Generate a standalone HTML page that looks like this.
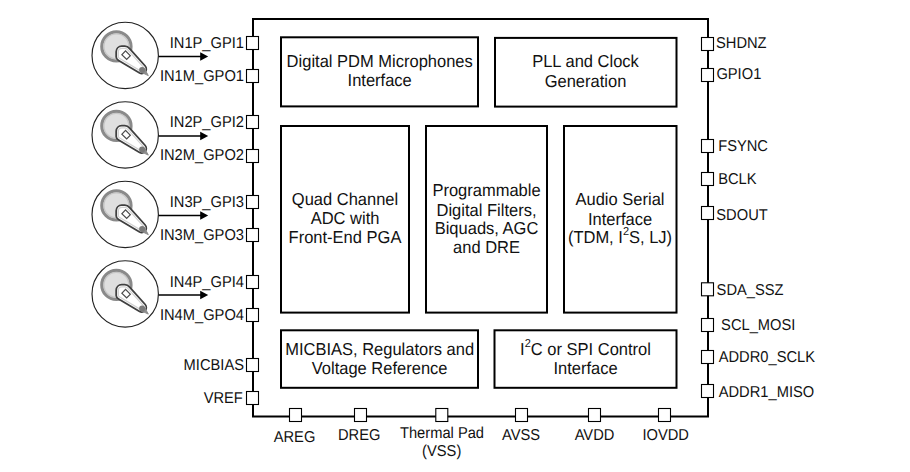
<!DOCTYPE html>
<html><head><meta charset="utf-8"><title>Block Diagram</title>
<style>
html,body{margin:0;padding:0;background:#fff;}
body{width:910px;height:472px;overflow:hidden;}
svg{display:block;}
text{font-family:"Liberation Sans",Arial,Helvetica,sans-serif;fill:#111;text-rendering:geometricPrecision;}
</style></head><body>
<svg width="910" height="472" viewBox="0 0 910 472">
<defs><clipPath id="hc"><path d="M129.6,48.6 L145.2,66.0 C146.7,67.8 146.7,70.5 145.0,72.1 C143.4,73.6 141.4,73.9 139.6,73.0 L118.6,60.4 C117.1,59.5 116.2,58.6 116.2,57.0 L116.2,51.8 C116.2,48.7 118.6,46.3 121.8,46.2 L124.8,46.2 C126.9,46.2 128.4,47.2 129.6,48.6 Z"/></clipPath></defs>
<rect x="0" y="0" width="910" height="472" fill="#fff"/>
<rect x="253" y="19" width="455" height="397.5" fill="none" stroke="#000" stroke-width="2"/>
<rect x="281" y="37.3" width="197" height="69.1" fill="#fff" stroke="#000" stroke-width="2"/>
<rect x="495" y="37.9" width="181.5" height="68.7" fill="#fff" stroke="#000" stroke-width="2"/>
<rect x="281" y="126" width="128" height="186.6" fill="#fff" stroke="#000" stroke-width="2"/>
<rect x="426" y="126" width="121" height="186.6" fill="#fff" stroke="#000" stroke-width="2"/>
<rect x="564" y="126" width="112.5" height="186.6" fill="#fff" stroke="#000" stroke-width="2"/>
<rect x="281" y="330.3" width="197" height="57.5" fill="#fff" stroke="#000" stroke-width="2"/>
<rect x="494.5" y="330.3" width="182.0" height="57.5" fill="#fff" stroke="#000" stroke-width="2"/>
<rect x="246.5" y="36.5" width="12" height="13" fill="#fff" stroke="#000" stroke-width="1.1"/>
<text transform="translate(244,47.5) scale(1,1.07)" text-anchor="end" font-size="14.7">IN1P_GPI1</text>
<rect x="246.5" y="69.5" width="12" height="13" fill="#fff" stroke="#000" stroke-width="1.1"/>
<text transform="translate(244,80.8) scale(1,1.07)" text-anchor="end" font-size="14.7">IN1M_GPO1</text>
<rect x="246.5" y="115.5" width="12" height="13" fill="#fff" stroke="#000" stroke-width="1.1"/>
<text transform="translate(244,127) scale(1,1.07)" text-anchor="end" font-size="14.7">IN2P_GPI2</text>
<rect x="246.5" y="149.5" width="12" height="13" fill="#fff" stroke="#000" stroke-width="1.1"/>
<text transform="translate(244,160) scale(1,1.07)" text-anchor="end" font-size="14.7">IN2M_GPO2</text>
<rect x="246.5" y="195.5" width="12" height="13" fill="#fff" stroke="#000" stroke-width="1.1"/>
<text transform="translate(244,207) scale(1,1.07)" text-anchor="end" font-size="14.7">IN3P_GPI3</text>
<rect x="246.5" y="228.5" width="12" height="13" fill="#fff" stroke="#000" stroke-width="1.1"/>
<text transform="translate(244,240) scale(1,1.07)" text-anchor="end" font-size="14.7">IN3M_GPO3</text>
<rect x="246.5" y="275.5" width="12" height="13" fill="#fff" stroke="#000" stroke-width="1.1"/>
<text transform="translate(244,286.7) scale(1,1.07)" text-anchor="end" font-size="14.7">IN4P_GPI4</text>
<rect x="246.5" y="308.5" width="12" height="13" fill="#fff" stroke="#000" stroke-width="1.1"/>
<text transform="translate(244,319.6) scale(1,1.07)" text-anchor="end" font-size="14.7">IN4M_GPO4</text>
<rect x="246.5" y="358.5" width="12" height="13" fill="#fff" stroke="#000" stroke-width="1.1"/>
<text transform="translate(244,369.7) scale(1,1.07)" text-anchor="end" font-size="14.7">MICBIAS</text>
<rect x="246.5" y="391.5" width="12" height="13" fill="#fff" stroke="#000" stroke-width="1.1"/>
<text transform="translate(242.8,403.0) scale(1,1.07)" text-anchor="end" font-size="14.7">VREF</text>
<rect x="701.5" y="37.5" width="12" height="13" fill="#fff" stroke="#000" stroke-width="1.1"/>
<text transform="translate(716,48.2) scale(1,1.07)" text-anchor="start" font-size="14.7">SHDNZ</text>
<rect x="701.5" y="68.5" width="12" height="13" fill="#fff" stroke="#000" stroke-width="1.1"/>
<text transform="translate(716.4,78.9) scale(1,1.07)" text-anchor="start" font-size="14.7">GPIO1</text>
<rect x="701.5" y="139.5" width="12" height="13" fill="#fff" stroke="#000" stroke-width="1.1"/>
<text transform="translate(718.2,151) scale(1,1.07)" text-anchor="start" font-size="14.7">FSYNC</text>
<rect x="701.5" y="172.5" width="12" height="13" fill="#fff" stroke="#000" stroke-width="1.1"/>
<text transform="translate(718.2,184.1) scale(1,1.07)" text-anchor="start" font-size="14.7">BCLK</text>
<rect x="701.5" y="206.5" width="12" height="13" fill="#fff" stroke="#000" stroke-width="1.1"/>
<text transform="translate(716.3,219.9) scale(1,1.07)" text-anchor="start" font-size="14.7">SDOUT</text>
<rect x="701.5" y="282.8" width="12" height="13.0" fill="#fff" stroke="#000" stroke-width="1.1"/>
<text transform="translate(716.6,295.2) scale(1,1.07)" text-anchor="start" font-size="14.7">SDA_SSZ</text>
<rect x="701.5" y="318.5" width="12" height="13" fill="#fff" stroke="#000" stroke-width="1.1"/>
<text transform="translate(721.1,330.2) scale(1,1.07)" text-anchor="start" font-size="14.7">SCL_MOSI</text>
<rect x="701.5" y="350.5" width="12" height="13" fill="#fff" stroke="#000" stroke-width="1.1"/>
<text transform="translate(718.7,362) scale(1,1.07)" text-anchor="start" font-size="14.7">ADDR0_SCLK</text>
<rect x="701.5" y="384.5" width="12" height="13" fill="#fff" stroke="#000" stroke-width="1.1"/>
<text transform="translate(718.7,397) scale(1,1.07)" text-anchor="start" font-size="14.7">ADDR1_MISO</text>
<rect x="289.5" y="408.5" width="12" height="13" fill="#fff" stroke="#000" stroke-width="1.1"/>
<text transform="translate(294.5,441.7) scale(1,1.07)" text-anchor="middle" font-size="14.7">AREG</text>
<rect x="354.5" y="408.5" width="12" height="13" fill="#fff" stroke="#000" stroke-width="1.1"/>
<text transform="translate(359.2,439.9) scale(1,1.07)" text-anchor="middle" font-size="14.7">DREG</text>
<rect x="435.8" y="408.5" width="12.0" height="13" fill="#fff" stroke="#000" stroke-width="1.1"/>
<text transform="translate(442.0,437.8) scale(1,1.07)" text-anchor="middle" font-size="14.7">Thermal Pad</text>
<rect x="515.5" y="408.5" width="12" height="13" fill="#fff" stroke="#000" stroke-width="1.1"/>
<text transform="translate(521,439.9) scale(1,1.07)" text-anchor="middle" font-size="14.7">AVSS</text>
<rect x="588.5" y="408.5" width="12" height="13" fill="#fff" stroke="#000" stroke-width="1.1"/>
<text transform="translate(594.5,439.9) scale(1,1.07)" text-anchor="middle" font-size="14.7">AVDD</text>
<rect x="658.5" y="408.5" width="12" height="13" fill="#fff" stroke="#000" stroke-width="1.1"/>
<text transform="translate(665.7,439.9) scale(1,1.07)" text-anchor="middle" font-size="14.7">IOVDD</text>
<text transform="translate(441.7,455.8) scale(1,1.07)" text-anchor="middle" font-size="14.7">(VSS)</text>
<text transform="translate(379.7,66.8) scale(1,1.05)" text-anchor="middle" font-size="16.5">Digital PDM Microphones</text>
<text transform="translate(379.7,85.7) scale(1,1.05)" text-anchor="middle" font-size="16.5">Interface</text>
<text transform="translate(585.5,67) scale(1,1.05)" text-anchor="middle" font-size="16.5">PLL and Clock</text>
<text transform="translate(585.5,86.8) scale(1,1.05)" text-anchor="middle" font-size="16.5">Generation</text>
<text transform="translate(345,205.1) scale(1,1.05)" text-anchor="middle" font-size="16.5">Quad Channel</text>
<text transform="translate(345,223.5) scale(1,1.05)" text-anchor="middle" font-size="16.5">ADC with</text>
<text transform="translate(345,242.8) scale(1,1.05)" text-anchor="middle" font-size="16.5">Front-End PGA</text>
<text transform="translate(486.5,196.1) scale(1,1.05)" text-anchor="middle" font-size="16.5">Programmable</text>
<text transform="translate(486.5,215.5) scale(1,1.05)" text-anchor="middle" font-size="16.5">Digital Filters,</text>
<text transform="translate(486.5,234.3) scale(1,1.05)" text-anchor="middle" font-size="16.5">Biquads, AGC</text>
<text transform="translate(486.5,252.7) scale(1,1.05)" text-anchor="middle" font-size="16.5">and DRE</text>
<text transform="translate(620,204.5) scale(1,1.05)" text-anchor="middle" font-size="16.5">Audio Serial</text>
<text transform="translate(620,224.6) scale(1,1.05)" text-anchor="middle" font-size="16.5">Interface</text>
<text transform="translate(620,243.0) scale(1,1.05)" text-anchor="middle" font-size="16.5">(TDM, I<tspan font-size="11" dy="-7.8">2</tspan><tspan dy="7.8">S, LJ)</tspan></text>
<text transform="translate(379.6,354.6) scale(1,1.05)" text-anchor="middle" font-size="16.5">MICBIAS, Regulators and</text>
<text transform="translate(379.6,373.8) scale(1,1.05)" text-anchor="middle" font-size="16.5">Voltage Reference</text>
<text transform="translate(585.5,354.8) scale(1,1.05)" text-anchor="middle" font-size="16.5">I<tspan font-size="11" dy="-7.8">2</tspan><tspan dy="7.8">C or SPI Control</tspan></text>
<text transform="translate(585.5,373.7) scale(1,1.05)" text-anchor="middle" font-size="16.5">Interface</text>
<g transform="translate(0,0.00)"><circle cx="125.2" cy="55.45" r="33.2" fill="#fff" stroke="#222" stroke-width="1.15"/><circle cx="116.4" cy="46.4" r="14.6" fill="#dfdfdf" stroke="#8a8a8a" stroke-width="3.2"/><circle cx="116.4" cy="46.4" r="12.5" fill="none" stroke="#c6c6c6" stroke-width="1.3"/><path d="M129.6,48.6 L145.2,66.0 C146.7,67.8 146.7,70.5 145.0,72.1 C143.4,73.6 141.4,73.9 139.6,73.0 L118.6,60.4 C117.1,59.5 116.2,58.6 116.2,57.0 L116.2,51.8 C116.2,48.7 118.6,46.3 121.8,46.2 L124.8,46.2 C126.9,46.2 128.4,47.2 129.6,48.6 Z" fill="#fff"/><path d="M129.6,48.6 L145.2,66.0 C146.7,67.8 146.7,70.5 145.0,72.1 C143.4,73.6 141.4,73.9 139.6,73.0 L118.6,60.4 C117.1,59.5 116.2,58.6 116.2,57.0 L116.2,51.8 C116.2,48.7 118.6,46.3 121.8,46.2 L124.8,46.2 C126.9,46.2 128.4,47.2 129.6,48.6 Z" fill="none" stroke="#d2d2d2" stroke-width="5.6" clip-path="url(#hc)"/><path d="M129.6,48.6 L145.2,66.0 C146.7,67.8 146.7,70.5 145.0,72.1 C143.4,73.6 141.4,73.9 139.6,73.0 L118.6,60.4 C117.1,59.5 116.2,58.6 116.2,57.0 L116.2,51.8 C116.2,48.7 118.6,46.3 121.8,46.2 L124.8,46.2 C126.9,46.2 128.4,47.2 129.6,48.6 Z" fill="none" stroke="#fff" stroke-width="3.2" clip-path="url(#hc)"/><path d="M129.6,48.6 L145.2,66.0 C146.7,67.8 146.7,70.5 145.0,72.1 C143.4,73.6 141.4,73.9 139.6,73.0 L118.6,60.4 C117.1,59.5 116.2,58.6 116.2,57.0 L116.2,51.8 C116.2,48.7 118.6,46.3 121.8,46.2 L124.8,46.2 C126.9,46.2 128.4,47.2 129.6,48.6 Z" fill="none" stroke="#404040" stroke-width="1.8"/><rect x="-3.4" y="-2.6" width="6.8" height="5.2" transform="translate(126.1,55.2) rotate(45)" fill="#fff" stroke="#4d4d4d" stroke-width="1.2"/><path d="M140.9,72.1 L144.4,68.6 L148.3,75.6 Z" fill="#8c8c8c" stroke="#8c8c8c" stroke-width="1" stroke-linejoin="round"/><circle cx="142.1" cy="69.9" r="3" fill="#7a7a7a"/><line x1="158.6" y1="56.5" x2="201" y2="56.5" stroke="#000" stroke-width="1.3"/><path d="M200.2,52.3 L208.2,56.5 L200.2,60.8 Z" fill="#000"/></g>
<g transform="translate(0,79.50)"><circle cx="125.2" cy="55.45" r="33.2" fill="#fff" stroke="#222" stroke-width="1.15"/><circle cx="116.4" cy="46.4" r="14.6" fill="#dfdfdf" stroke="#8a8a8a" stroke-width="3.2"/><circle cx="116.4" cy="46.4" r="12.5" fill="none" stroke="#c6c6c6" stroke-width="1.3"/><path d="M129.6,48.6 L145.2,66.0 C146.7,67.8 146.7,70.5 145.0,72.1 C143.4,73.6 141.4,73.9 139.6,73.0 L118.6,60.4 C117.1,59.5 116.2,58.6 116.2,57.0 L116.2,51.8 C116.2,48.7 118.6,46.3 121.8,46.2 L124.8,46.2 C126.9,46.2 128.4,47.2 129.6,48.6 Z" fill="#fff"/><path d="M129.6,48.6 L145.2,66.0 C146.7,67.8 146.7,70.5 145.0,72.1 C143.4,73.6 141.4,73.9 139.6,73.0 L118.6,60.4 C117.1,59.5 116.2,58.6 116.2,57.0 L116.2,51.8 C116.2,48.7 118.6,46.3 121.8,46.2 L124.8,46.2 C126.9,46.2 128.4,47.2 129.6,48.6 Z" fill="none" stroke="#d2d2d2" stroke-width="5.6" clip-path="url(#hc)"/><path d="M129.6,48.6 L145.2,66.0 C146.7,67.8 146.7,70.5 145.0,72.1 C143.4,73.6 141.4,73.9 139.6,73.0 L118.6,60.4 C117.1,59.5 116.2,58.6 116.2,57.0 L116.2,51.8 C116.2,48.7 118.6,46.3 121.8,46.2 L124.8,46.2 C126.9,46.2 128.4,47.2 129.6,48.6 Z" fill="none" stroke="#fff" stroke-width="3.2" clip-path="url(#hc)"/><path d="M129.6,48.6 L145.2,66.0 C146.7,67.8 146.7,70.5 145.0,72.1 C143.4,73.6 141.4,73.9 139.6,73.0 L118.6,60.4 C117.1,59.5 116.2,58.6 116.2,57.0 L116.2,51.8 C116.2,48.7 118.6,46.3 121.8,46.2 L124.8,46.2 C126.9,46.2 128.4,47.2 129.6,48.6 Z" fill="none" stroke="#404040" stroke-width="1.8"/><rect x="-3.4" y="-2.6" width="6.8" height="5.2" transform="translate(126.1,55.2) rotate(45)" fill="#fff" stroke="#4d4d4d" stroke-width="1.2"/><path d="M140.9,72.1 L144.4,68.6 L148.3,75.6 Z" fill="#8c8c8c" stroke="#8c8c8c" stroke-width="1" stroke-linejoin="round"/><circle cx="142.1" cy="69.9" r="3" fill="#7a7a7a"/><line x1="158.6" y1="56.5" x2="201" y2="56.5" stroke="#000" stroke-width="1.3"/><path d="M200.2,52.3 L208.2,56.5 L200.2,60.8 Z" fill="#000"/></g>
<g transform="translate(0,159.00)"><circle cx="125.2" cy="55.45" r="33.2" fill="#fff" stroke="#222" stroke-width="1.15"/><circle cx="116.4" cy="46.4" r="14.6" fill="#dfdfdf" stroke="#8a8a8a" stroke-width="3.2"/><circle cx="116.4" cy="46.4" r="12.5" fill="none" stroke="#c6c6c6" stroke-width="1.3"/><path d="M129.6,48.6 L145.2,66.0 C146.7,67.8 146.7,70.5 145.0,72.1 C143.4,73.6 141.4,73.9 139.6,73.0 L118.6,60.4 C117.1,59.5 116.2,58.6 116.2,57.0 L116.2,51.8 C116.2,48.7 118.6,46.3 121.8,46.2 L124.8,46.2 C126.9,46.2 128.4,47.2 129.6,48.6 Z" fill="#fff"/><path d="M129.6,48.6 L145.2,66.0 C146.7,67.8 146.7,70.5 145.0,72.1 C143.4,73.6 141.4,73.9 139.6,73.0 L118.6,60.4 C117.1,59.5 116.2,58.6 116.2,57.0 L116.2,51.8 C116.2,48.7 118.6,46.3 121.8,46.2 L124.8,46.2 C126.9,46.2 128.4,47.2 129.6,48.6 Z" fill="none" stroke="#d2d2d2" stroke-width="5.6" clip-path="url(#hc)"/><path d="M129.6,48.6 L145.2,66.0 C146.7,67.8 146.7,70.5 145.0,72.1 C143.4,73.6 141.4,73.9 139.6,73.0 L118.6,60.4 C117.1,59.5 116.2,58.6 116.2,57.0 L116.2,51.8 C116.2,48.7 118.6,46.3 121.8,46.2 L124.8,46.2 C126.9,46.2 128.4,47.2 129.6,48.6 Z" fill="none" stroke="#fff" stroke-width="3.2" clip-path="url(#hc)"/><path d="M129.6,48.6 L145.2,66.0 C146.7,67.8 146.7,70.5 145.0,72.1 C143.4,73.6 141.4,73.9 139.6,73.0 L118.6,60.4 C117.1,59.5 116.2,58.6 116.2,57.0 L116.2,51.8 C116.2,48.7 118.6,46.3 121.8,46.2 L124.8,46.2 C126.9,46.2 128.4,47.2 129.6,48.6 Z" fill="none" stroke="#404040" stroke-width="1.8"/><rect x="-3.4" y="-2.6" width="6.8" height="5.2" transform="translate(126.1,55.2) rotate(45)" fill="#fff" stroke="#4d4d4d" stroke-width="1.2"/><path d="M140.9,72.1 L144.4,68.6 L148.3,75.6 Z" fill="#8c8c8c" stroke="#8c8c8c" stroke-width="1" stroke-linejoin="round"/><circle cx="142.1" cy="69.9" r="3" fill="#7a7a7a"/><line x1="158.6" y1="56.5" x2="201" y2="56.5" stroke="#000" stroke-width="1.3"/><path d="M200.2,52.3 L208.2,56.5 L200.2,60.8 Z" fill="#000"/></g>
<g transform="translate(0,238.50)"><circle cx="125.2" cy="55.45" r="33.2" fill="#fff" stroke="#222" stroke-width="1.15"/><circle cx="116.4" cy="46.4" r="14.6" fill="#dfdfdf" stroke="#8a8a8a" stroke-width="3.2"/><circle cx="116.4" cy="46.4" r="12.5" fill="none" stroke="#c6c6c6" stroke-width="1.3"/><path d="M129.6,48.6 L145.2,66.0 C146.7,67.8 146.7,70.5 145.0,72.1 C143.4,73.6 141.4,73.9 139.6,73.0 L118.6,60.4 C117.1,59.5 116.2,58.6 116.2,57.0 L116.2,51.8 C116.2,48.7 118.6,46.3 121.8,46.2 L124.8,46.2 C126.9,46.2 128.4,47.2 129.6,48.6 Z" fill="#fff"/><path d="M129.6,48.6 L145.2,66.0 C146.7,67.8 146.7,70.5 145.0,72.1 C143.4,73.6 141.4,73.9 139.6,73.0 L118.6,60.4 C117.1,59.5 116.2,58.6 116.2,57.0 L116.2,51.8 C116.2,48.7 118.6,46.3 121.8,46.2 L124.8,46.2 C126.9,46.2 128.4,47.2 129.6,48.6 Z" fill="none" stroke="#d2d2d2" stroke-width="5.6" clip-path="url(#hc)"/><path d="M129.6,48.6 L145.2,66.0 C146.7,67.8 146.7,70.5 145.0,72.1 C143.4,73.6 141.4,73.9 139.6,73.0 L118.6,60.4 C117.1,59.5 116.2,58.6 116.2,57.0 L116.2,51.8 C116.2,48.7 118.6,46.3 121.8,46.2 L124.8,46.2 C126.9,46.2 128.4,47.2 129.6,48.6 Z" fill="none" stroke="#fff" stroke-width="3.2" clip-path="url(#hc)"/><path d="M129.6,48.6 L145.2,66.0 C146.7,67.8 146.7,70.5 145.0,72.1 C143.4,73.6 141.4,73.9 139.6,73.0 L118.6,60.4 C117.1,59.5 116.2,58.6 116.2,57.0 L116.2,51.8 C116.2,48.7 118.6,46.3 121.8,46.2 L124.8,46.2 C126.9,46.2 128.4,47.2 129.6,48.6 Z" fill="none" stroke="#404040" stroke-width="1.8"/><rect x="-3.4" y="-2.6" width="6.8" height="5.2" transform="translate(126.1,55.2) rotate(45)" fill="#fff" stroke="#4d4d4d" stroke-width="1.2"/><path d="M140.9,72.1 L144.4,68.6 L148.3,75.6 Z" fill="#8c8c8c" stroke="#8c8c8c" stroke-width="1" stroke-linejoin="round"/><circle cx="142.1" cy="69.9" r="3" fill="#7a7a7a"/><line x1="158.6" y1="56.5" x2="201" y2="56.5" stroke="#000" stroke-width="1.3"/><path d="M200.2,52.3 L208.2,56.5 L200.2,60.8 Z" fill="#000"/></g>
</svg>
</body></html>
